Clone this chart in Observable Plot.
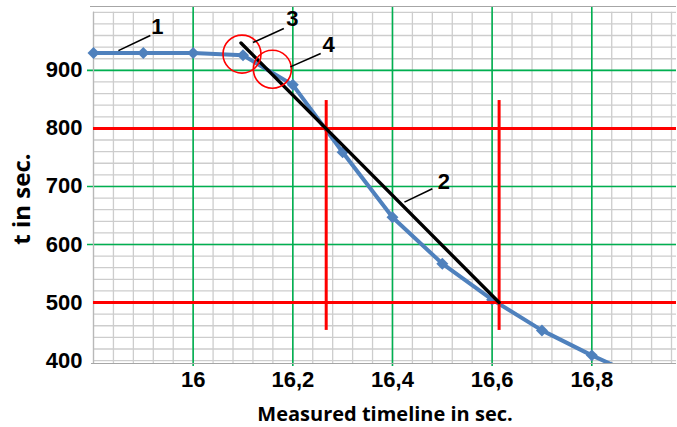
<!DOCTYPE html>
<html>
<head>
<meta charset="utf-8">
<script src="https://cdn.jsdelivr.net/npm/d3@7"></script>
<script src="https://cdn.jsdelivr.net/npm/@observablehq/plot@0.6"></script>
<style>
  html, body { margin: 0; padding: 0; background: #fff; }
</style>
</head>
<body>
<div id="chart"></div>
<script>
// ---- data ----
const timeX = [15.8, 15.9, 16.0, 16.1, 16.2, 16.3, 16.4, 16.5, 16.6, 16.7, 16.8, 16.9];
const tValues = [930, 930, 930, 926, 875, 759, 647, 567, 505, 452, 409, 370];

const xTicks = [16, 16.2, 16.4, 16.6, 16.8];
const xTickLabels = ["16", "16,2", "16,4", "16,6", "16,8"];
const yTicks = [400, 500, 600, 700, 800, 900];
const yGreen = [600, 700, 900];

const redLevels = [800, 500];
const redTimes = [16.267, 16.614];
const redSpanLow = 452;
const redSpanHigh = 848;

const tangentX = [16.096, 16.614];
const tangentY = [947, 500];

const circleX = [16.098, 16.159];
const circleY = [928, 902];

const labelText = ["1", "2", "3", "4"];
const labelX = [15.928, 16.503, 16.199, 16.272];
const labelY = [974, 707, 989, 943];
const leaderX1 = [15.850, 16.424, 16.120, 16.195];
const leaderY1 = [934, 673, 948, 906];
const leaderX2 = [15.914, 16.480, 16.182, 16.256];
const leaderY2 = [960, 696, 972, 929];

const xTitle = "Measured timeline in sec.";
const yTitle = "t in sec.";

// ---- build tables ----
const series = timeX.map((x, i) => ({x, t: tValues[i]}));
const tangent = tangentX.map((x, i) => ({x, t: tangentY[i]}));
const circles = circleX.map((x, i) => ({x, t: circleY[i]}));
const labels = labelText.map((s, i) => ({s, x: labelX[i], t: labelY[i]}));
const leaders = labelText.map((s, i) => ({x1: leaderX1[i], y1: leaderY1[i], x2: leaderX2[i], y2: leaderY2[i]}));
const yMinor = d3.range(400, 1001, 20);
const xMinor = d3.range(0, 30).map(i => +(15.8 + i * 0.04).toFixed(2)).filter(v => v <= 16.97);

const blue = "#4f81bd";
const green = "#00b050";
const grid = "#cdcdcd";
const fmtX = d => xTickLabels[xTicks.indexOf(d)];

const chart = Plot.plot({
  width: 677,
  height: 427,
  marginLeft: 93,
  marginRight: 1,
  marginTop: 6,
  marginBottom: 64,
  x: {domain: [15.8, 16.97]},
  y: {domain: [395, 1010]},
  style: {fontFamily: "'Liberation Sans', Arial, sans-serif", background: "#fff", color: "#000"},
  marks: [
    Plot.ruleY(yMinor, {stroke: grid, strokeWidth: 1.3}),
    Plot.ruleX(xMinor, {y1: 395, y2: 1000, stroke: grid, strokeWidth: 1.3}),
    Plot.ruleY(yGreen, {stroke: green, strokeWidth: 1.6, insetLeft: -6}),
    Plot.ruleX(xTicks, {stroke: green, strokeWidth: 1.6, insetBottom: -3}),
    Plot.ruleY([1010], {stroke: "#a6a6a6", strokeWidth: 1.2, insetLeft: -3}),
    Plot.ruleY([395], {stroke: "#a6a6a6", strokeWidth: 1.2, insetLeft: -2}),
    Plot.ruleX([15.8], {y1: 395, y2: 1000, stroke: "#b8b8b8", strokeWidth: 1.2}),
    Plot.line(series, {x: "x", y: "t", stroke: blue, strokeWidth: 4, clip: true}),
    Plot.dot(series.filter(d => d.t >= 395), {x: "x", y: "t", symbol: "diamond2", r: 5.4, fill: blue}),
    Plot.ruleY(redLevels, {stroke: "#ff0000", strokeWidth: 3}),
    Plot.ruleX(redTimes, {y1: redSpanLow, y2: redSpanHigh, stroke: "#ff0000", strokeWidth: 3}),
    Plot.line(tangent, {x: "x", y: "t", stroke: "#000", strokeWidth: 3.4}),
    Plot.dot(circles, {x: "x", y: "t", r: 19, stroke: "#ff0000", strokeWidth: 1.6, fill: "none"}),
    Plot.link(leaders, {x1: "x1", y1: "y1", x2: "x2", y2: "y2", stroke: "#000", strokeWidth: 1.6}),
    Plot.text(labels, {x: "x", y: "t", text: "s", fontSize: 22, fontWeight: "bold", fill: "#000"}),
    Plot.axisY(yTicks, {tickSize: 0, tickPadding: 11, fontSize: 22, fontWeight: "bold", label: null}),
    Plot.axisX(xTicks, {tickSize: 0, tickPadding: 8, tickFormat: fmtX, fontSize: 22, fontWeight: "bold", label: null}),
    Plot.text([xTitle], {text: d => d, frameAnchor: "bottom", lineAnchor: "middle", textAnchor: "middle", dy: 51, fontFamily: "'Open Sans', sans-serif", fontWeight: "bold", fontSize: 20, fill: "#000"}),
    Plot.text([yTitle], {text: d => d, frameAnchor: "left", textAnchor: "middle", lineAnchor: "middle", dx: -71, dy: 14, rotate: -90, fontFamily: "'Open Sans', sans-serif", fontWeight: "bold", fontSize: 24, fill: "#000"})
  ]
});
document.getElementById("chart").appendChild(chart);
</script>
</body>
</html>
